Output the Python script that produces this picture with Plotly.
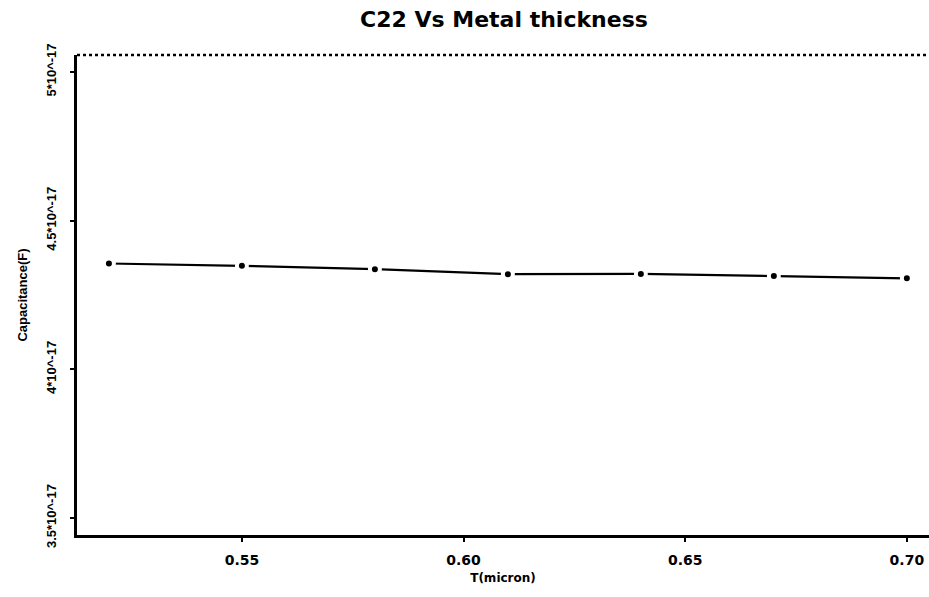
import plotly.graph_objects as go

thickness = [0.52, 0.55, 0.58, 0.61, 0.64, 0.67, 0.70]
capacitance = [4.356e-17, 4.348e-17, 4.337e-17, 4.320e-17, 4.321e-17, 4.314e-17, 4.306e-17]

x_tickvals = [0.55, 0.60, 0.65, 0.70]
x_ticktext = ["0.55", "0.60", "0.65", "0.70"]
y_tickvals = [3.5e-17, 4.0e-17, 4.5e-17, 5.0e-17]
y_ticktext = ["3.5*10^-17", "4*10^-17", "4.5*10^-17", "5*10^-17"]

fig = go.Figure()
fig.add_trace(go.Scatter(
    x=thickness, y=capacitance, mode="lines+markers",
    line=dict(color="black", width=2.2),
    marker=dict(color="black", size=10, line=dict(color="white", width=4)),
    showlegend=False, hoverinfo="x+y",
))

wide = "DejaVu Sans, Verdana, sans-serif"
narrow = "Liberation Sans, Arial, sans-serif"

fig.update_layout(
    width=929, height=597,
    margin=dict(l=77, r=0, t=55, b=62),
    paper_bgcolor="white", plot_bgcolor="white",
    title=dict(text="C22 Vs Metal thickness", x=0.5425, xanchor="center", y=0.968, yanchor="middle",
               font=dict(family=wide, size=22, color="black", weight="bold")),
    xaxis=dict(
        range=[0.5128, 0.705], tickvals=x_tickvals, ticktext=x_ticktext,
        showgrid=False, zeroline=False, showline=True, linecolor="black", linewidth=2.5,
        ticks="outside", ticklen=4, tickwidth=1.5, tickcolor="black", ticklabelstandoff=6,
        automargin=False,
        tickfont=dict(family=wide, size=14, color="black", weight="bold"),
        title=dict(text="T(micron)", standoff=8,
                   font=dict(family=wide, size=12, color="black", weight="bold")),
    ),
    yaxis=dict(
        range=[3.443e-17, 5.057e-17], tickvals=y_tickvals, ticktext=y_ticktext,
        showgrid=False, zeroline=False, showline=True, linecolor="black", linewidth=2.5,
        ticks="outside", ticklen=4, tickwidth=1.5, tickcolor="black", tickangle=-90,
        ticklabelstandoff=9, automargin=False,
        tickfont=dict(family=narrow, size=13, color="black", weight="bold"),
        title=dict(text="Capacitance(F)", standoff=14,
                   font=dict(family=narrow, size=13, color="black", weight="bold")),
    ),
    shapes=[dict(type="line", xref="paper", yref="paper", x0=0, x1=1, y0=1, y1=1,
                 line=dict(color="black", width=2.5, dash="dot"))],
)

fig.write_html("out.html", config={"displayModeBar": False},
               post_script="document.body.style.margin='0';document.body.style.overflow='hidden';")
